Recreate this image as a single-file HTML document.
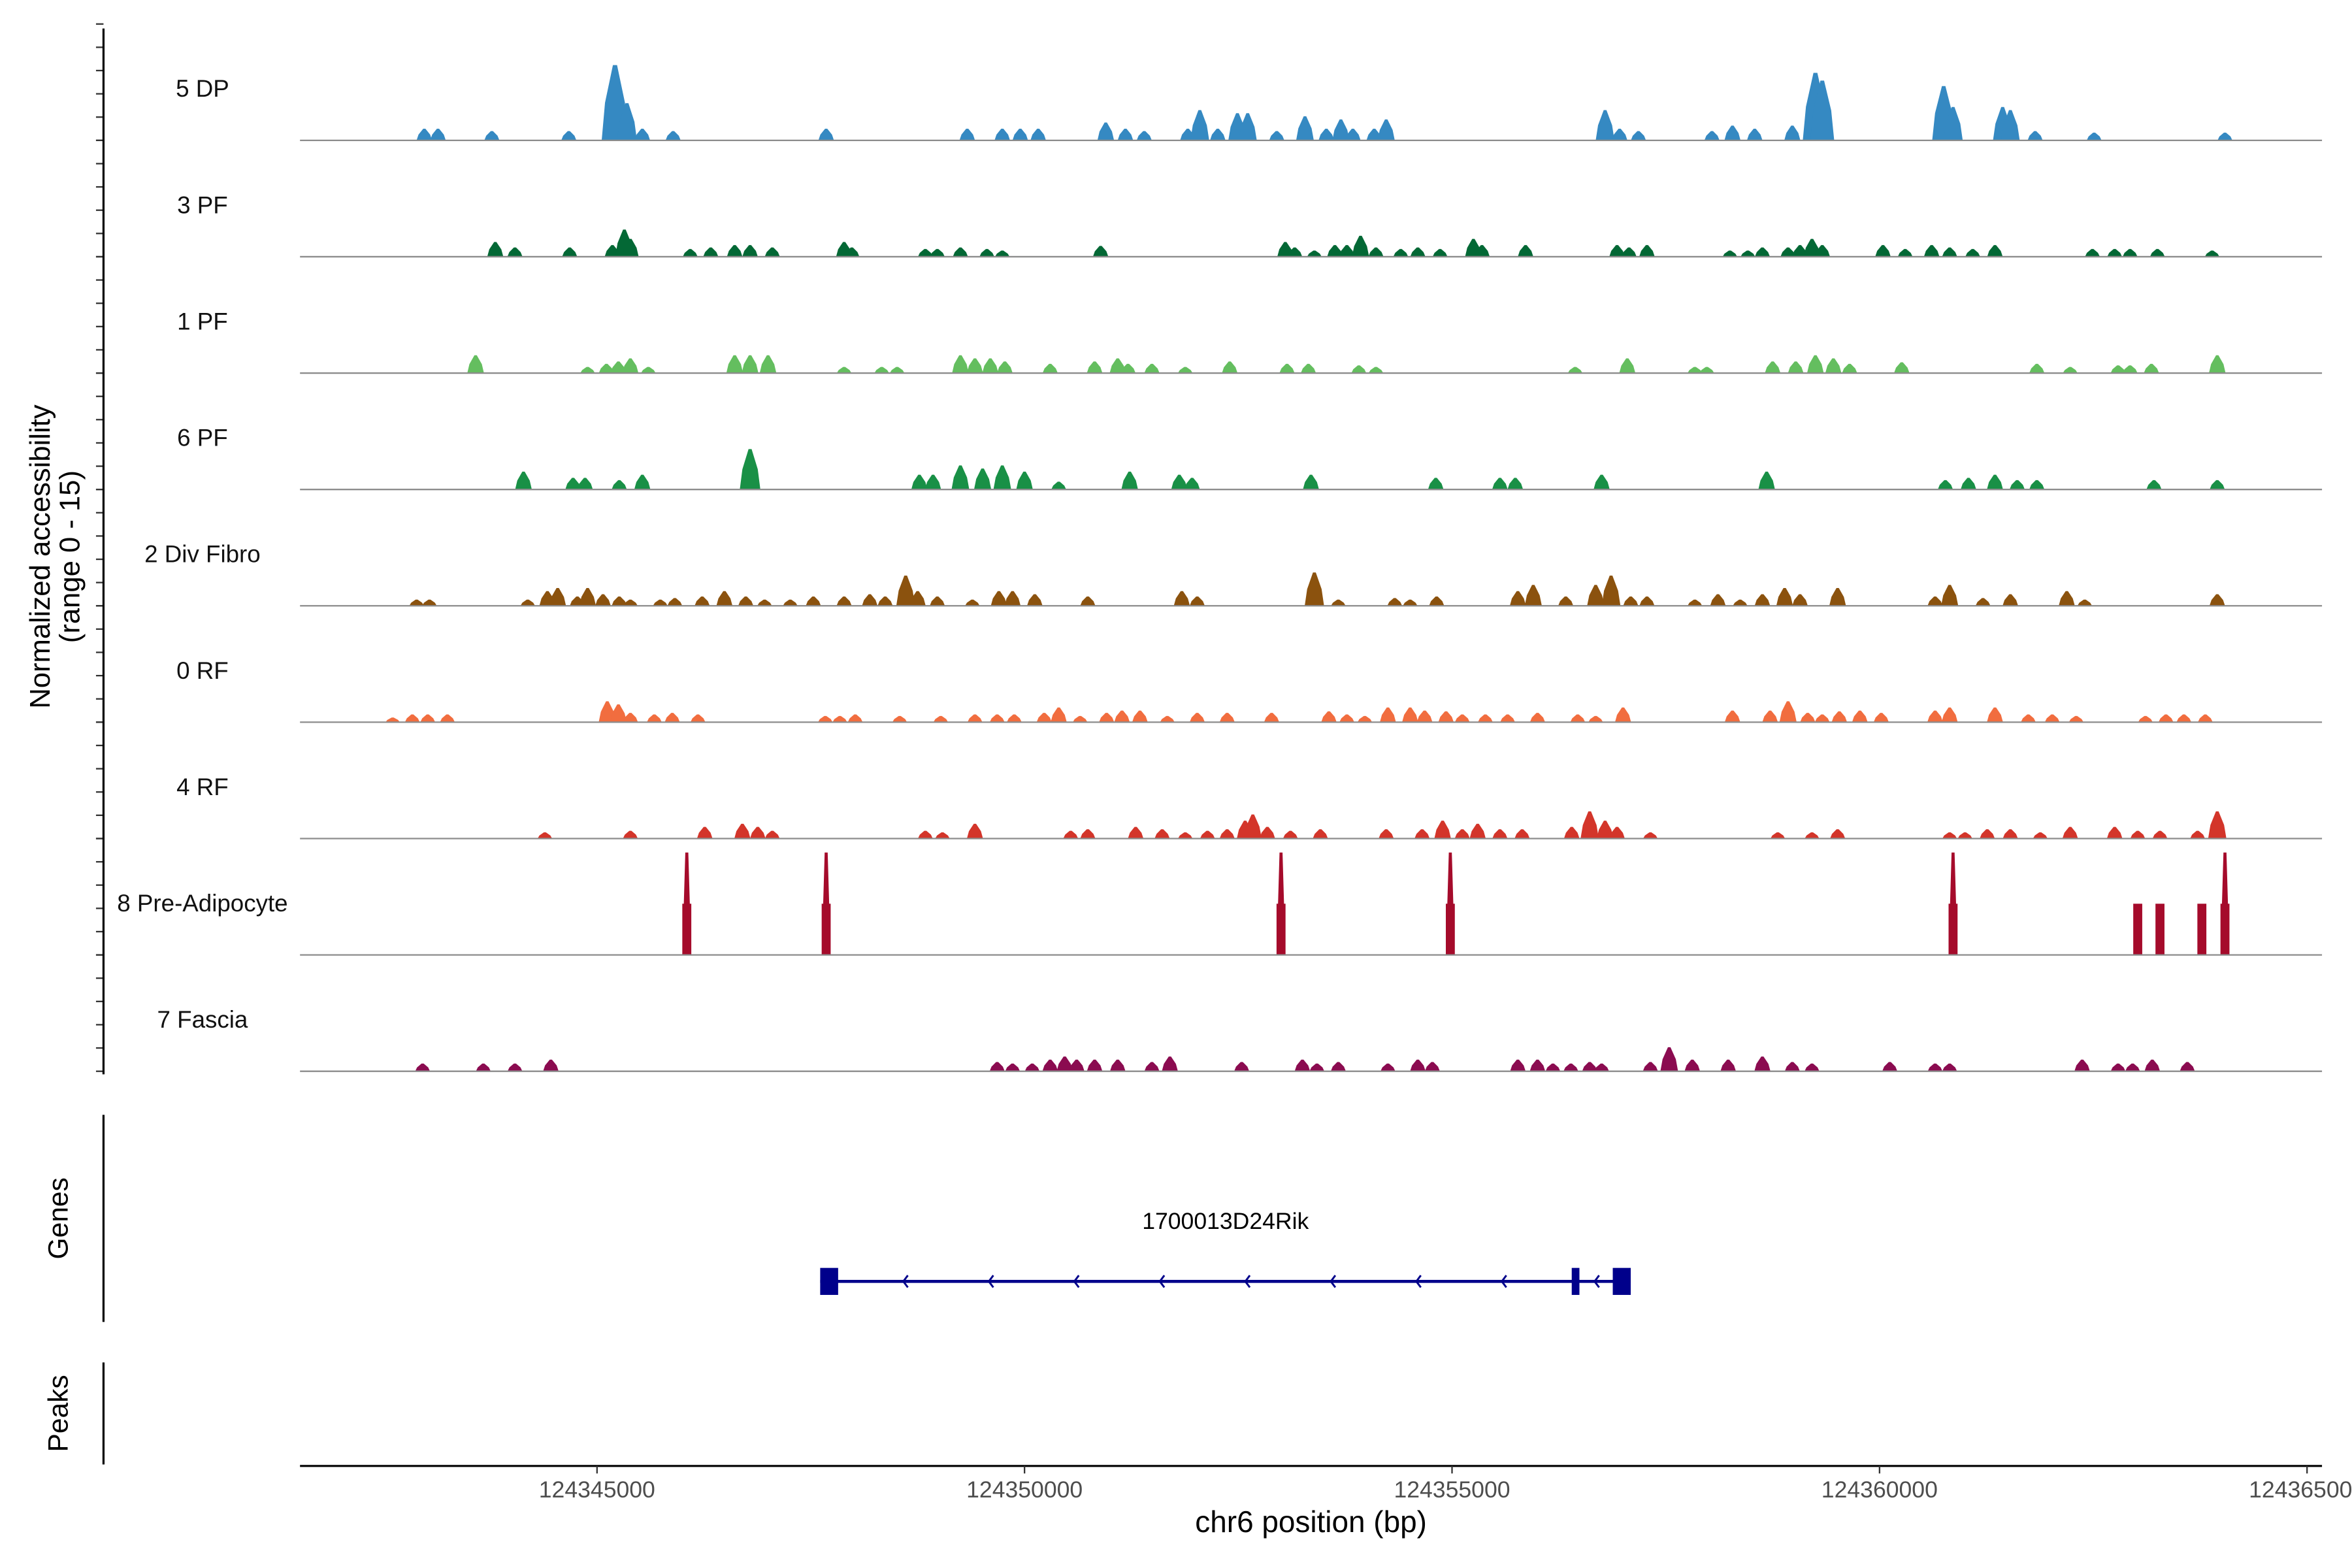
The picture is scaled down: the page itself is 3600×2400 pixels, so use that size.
<!DOCTYPE html>
<html><head><meta charset="utf-8"><style>
html,body{margin:0;padding:0;background:#fff}
svg{display:block}
text{font-family:"Liberation Sans",Arial,sans-serif}
</style></head><body>
<svg id="chart" xmlns="http://www.w3.org/2000/svg" width="3600" height="2400" viewBox="0 0 1568 1045" preserveAspectRatio="none">
<g id="tracks"></g>
<g id="axes"></g>
<g id="genes"></g>
</svg>
<script>
const regionStartKb = 124340;
const xDomainKb = [1.526, 25.175];
const yMax = 15;
const trackNames = ["5 DP","3 PF","1 PF","6 PF","2 Div Fibro","0 RF","4 RF","8 Pre-Adipocyte","7 Fascia"];
const trackColors = ["#3589C2","#036835","#64BE5F","#199046","#8B520E","#F16D3F","#D3352A","#A50B2B","#8B0B50"];
const xTicksKb = [5,10,15,20,25];
const xTickLabels = ["124345000","124350000","124355000","124360000","124365000"];

const pos5DP = [2.98,3.14,3.77,4.67,5.21,5.35,5.53,5.89,7.68,9.33,9.74,9.95,10.16,10.95,11.18,11.40,11.91,12.05,12.26,12.49,12.61,12.95,13.28,13.53,13.70,13.84,14.09,14.23,16.79,16.96,17.18,18.04,18.28,18.54,18.98,19.25,19.33,20.75,20.86,21.44,21.53,21.82,22.51,24.04];
const val5DP = [1.5,1.5,1.2,1.2,9.7,4.8,1.5,1.2,1.5,1.5,1.5,1.5,1.5,2.3,1.5,1.2,1.5,3.9,1.5,3.5,3.5,1.2,3.1,1.5,2.7,1.5,1.5,2.7,3.9,1.5,1.2,1.2,1.9,1.5,1.9,8.7,7.7,7.0,4.3,4.3,3.9,1.2,1.0,1.0];
const pos3PF = [3.81,4.04,4.68,5.18,5.32,5.39,6.09,6.33,6.61,6.79,7.05,7.89,7.98,8.84,8.98,9.25,9.56,9.74,10.89,13.05,13.16,13.39,13.63,13.77,13.93,14.11,14.40,14.60,14.86,15.25,15.35,15.86,16.93,17.07,17.28,18.25,18.46,18.63,18.93,19.07,19.21,19.33,20.04,20.30,20.61,20.82,21.09,21.35,22.49,22.75,22.93,23.25,23.89];
const val3PF = [1.9,1.2,1.2,1.5,3.5,2.3,1.0,1.2,1.5,1.5,1.2,1.9,1.2,1.0,1.0,1.2,1.0,0.8,1.4,1.9,1.2,0.8,1.5,1.5,2.7,1.2,1.0,1.2,1.0,2.3,1.5,1.5,1.5,1.2,1.5,0.8,0.8,1.2,1.2,1.5,2.3,1.5,1.5,1.0,1.5,1.2,1.0,1.5,1.0,1.0,1.0,1.0,0.8];
const pos1PF = [3.58,4.89,5.11,5.25,5.39,5.60,6.61,6.79,7.00,7.89,8.33,8.51,9.25,9.42,9.60,9.77,10.30,10.82,11.09,11.21,11.49,11.88,12.40,13.07,13.32,13.91,14.11,16.44,17.05,17.84,17.98,18.75,19.02,19.25,19.46,19.65,20.26,21.84,22.23,22.79,22.93,23.18,23.95];
const val1PF = [2.3,0.8,1.2,1.5,1.9,0.8,2.3,2.3,2.3,0.8,0.8,0.8,2.3,1.9,1.9,1.5,1.2,1.5,1.9,1.2,1.2,0.8,1.5,1.2,1.2,1.0,0.8,0.8,1.9,0.8,0.8,1.5,1.5,2.3,1.9,1.2,1.4,1.2,0.8,1.0,1.0,1.2,2.3];
const pos6PF = [4.14,4.72,4.86,5.26,5.53,6.79,8.77,8.93,9.25,9.51,9.74,10.00,10.40,11.23,11.81,11.96,13.35,14.81,15.56,15.74,16.75,18.68,20.77,21.04,21.35,21.61,21.84,23.21,23.95];
const val6PF = [2.3,1.5,1.5,1.2,1.9,5.2,1.9,1.9,3.1,2.7,3.1,2.3,1.0,2.3,1.9,1.5,1.9,1.5,1.5,1.5,1.9,2.3,1.2,1.5,1.9,1.2,1.2,1.2,1.2];
const posDiv = [2.89,3.04,4.19,4.42,4.54,4.77,4.89,5.07,5.26,5.39,5.74,5.91,6.23,6.49,6.74,6.96,7.26,7.53,7.89,8.19,8.37,8.61,8.75,8.98,9.39,9.70,9.86,10.12,10.74,11.84,12.02,13.39,13.67,14.33,14.51,14.82,15.77,15.95,16.33,16.68,16.86,17.09,17.28,17.84,18.11,18.37,18.63,18.89,19.07,19.51,20.65,20.82,21.21,21.53,22.19,22.40,23.95];
const valDiv = [0.8,0.8,0.8,1.9,2.3,1.2,2.3,1.5,1.2,0.8,0.8,1.0,1.2,1.9,1.2,0.8,0.8,1.2,1.2,1.5,1.2,3.9,1.9,1.2,0.8,1.9,1.9,1.5,1.2,1.9,1.2,4.3,0.8,1.0,0.8,1.2,1.9,2.7,1.2,2.7,3.9,1.2,1.2,0.8,1.5,0.8,1.5,2.3,1.5,2.3,1.2,2.7,1.0,1.5,1.9,0.8,1.5];
const pos0RF = [2.61,2.84,3.02,3.25,5.12,5.25,5.39,5.67,5.88,6.18,7.67,7.84,8.02,8.54,9.02,9.42,9.68,9.88,10.23,10.40,10.65,10.96,11.14,11.35,11.67,12.02,12.37,12.89,13.56,13.77,13.98,14.25,14.51,14.68,14.93,15.12,15.39,15.65,16.00,16.47,16.68,17.00,18.28,18.72,18.93,19.16,19.33,19.53,19.77,20.02,20.65,20.82,21.35,21.74,22.02,22.30,23.11,23.35,23.56,23.81];
const val0RF = [0.6,1.0,1.0,1.0,2.7,2.3,1.2,1.0,1.2,1.0,0.8,0.8,1.0,0.8,0.8,1.0,1.0,1.0,1.2,1.9,0.8,1.2,1.5,1.5,0.8,1.2,1.2,1.2,1.4,1.0,0.8,1.9,1.9,1.5,1.4,1.0,1.0,1.0,1.2,1.0,0.8,1.9,1.5,1.5,2.7,1.2,1.0,1.4,1.5,1.2,1.5,1.9,1.9,1.0,1.0,0.8,0.8,1.0,1.0,1.0];
const pos4RF = [4.39,5.39,6.26,6.70,6.88,7.05,8.84,9.04,9.42,10.54,10.74,11.30,11.61,11.88,12.14,12.37,12.58,12.67,12.84,13.11,13.46,14.23,14.65,14.89,15.12,15.30,15.56,15.82,16.40,16.61,16.79,16.93,17.32,18.81,19.21,19.51,20.82,21.00,21.26,21.53,21.88,22.23,22.75,23.02,23.28,23.72,23.95];
const val4RF = [0.8,1.0,1.5,1.9,1.5,1.0,1.0,0.8,1.9,1.0,1.2,1.5,1.2,0.8,1.0,1.2,2.3,3.1,1.5,1.0,1.2,1.2,1.2,2.3,1.2,1.9,1.2,1.2,1.5,3.5,2.3,1.5,0.8,0.8,0.8,1.2,0.8,0.8,1.2,1.2,0.8,1.5,1.5,1.0,1.0,1.0,3.5];
const posPre = [6.05,7.68,13.00,14.98,20.86,23.02,23.28,23.77,24.04];
const valPre = [13.2,13.2,13.2,13.2,13.2,6.6,6.6,6.6,13.2];
const posFas = [2.96,3.67,4.04,4.46,9.68,9.86,10.09,10.30,10.47,10.61,10.82,11.09,11.49,11.70,12.54,13.25,13.42,13.67,14.25,14.60,14.77,15.77,16.00,16.18,16.39,16.61,16.75,17.32,17.54,17.81,18.23,18.63,18.98,19.21,20.12,20.65,20.82,22.37,22.79,22.96,23.19,23.60];
const valFas = [1.0,1.0,1.0,1.5,1.2,1.0,1.0,1.5,1.9,1.5,1.5,1.5,1.2,1.9,1.2,1.5,1.0,1.2,1.0,1.5,1.2,1.5,1.5,1.0,1.0,1.2,1.0,1.2,3.1,1.5,1.5,1.9,1.2,1.0,1.2,1.0,1.0,1.5,1.0,1.0,1.5,1.2];

const geneName = "1700013D24Rik";
const exonStartsKb = [7.61,16.40,16.88];
const exonEndsKb = [7.82,16.49,17.09];

const trackPos = [pos5DP,pos3PF,pos1PF,pos6PF,posDiv,pos0RF,pos4RF,posPre,posFas];
const trackVal = [val5DP,val3PF,val1PF,val6PF,valDiv,val0RF,val4RF,valPre,valFas];

const NS = "http://www.w3.org/2000/svg";
const X0 = 200, X1 = 1548;
const xs = kb => X0 + (kb - xDomainKb[0]) / (xDomainKb[1] - xDomainKb[0]) * (X1 - X0);
const trackTop = 16, trackH = 77.55;
const baseY = i => trackTop + (i + 1) * trackH;
const ys = (i, v) => baseY(i) - v / yMax * trackH;
function mk(tag, attrs, parent) {
  const e = document.createElementNS(NS, tag);
  for (const k in attrs) e.setAttribute(k, attrs[k]);
  parent.appendChild(e);
  return e;
}
const gT = document.getElementById('tracks');
const gA = document.getElementById('axes');
const gG = document.getElementById('genes');

trackNames.forEach((name, i) => {
  const g = mk('g', {}, gT);
  
  
  const lbl = mk('text', {x: 135, y: baseY(i) - 29, 'text-anchor': 'middle', 'font-size': 16, fill: '#111'}, g);
  lbl.textContent = name;
  
  
  const pos = trackPos[i], val = trackVal[i];
  pos.forEach((p, j) => {
    const v = val[j], b = baseY(i), cx = xs(p);
    let d;
    if (i === 7) {
      const low = Math.min(v, 6.6);
      const hw = 3;
      d = `M${cx-hw},${b} L${cx-hw},${ys(i,low)} L${cx-2},${ys(i,low)} L${cx-1},${ys(i,v)} L${cx+1},${ys(i,v)} L${cx+2},${ys(i,low)} L${cx+hw},${ys(i,low)} L${cx+hw},${b} Z`;
    } else {
      const bw = 4.5 + v * 0.45, tw = 0.6 + v * 0.08;
      d = `M${cx-bw},${b} L${cx-bw*0.75},${ys(i,v*0.5)} L${cx-tw},${ys(i,v)} L${cx+tw},${ys(i,v)} L${cx+bw*0.75},${ys(i,v*0.5)} L${cx+bw},${b} Z`;
    }
    const pk = mk('path', {d: d, fill: trackColors[i]}, g);
    
    
  });
  const bl = mk('line', {x1: X0, x2: X1, y1: baseY(i), y2: baseY(i), stroke: '#8c8c8c', 'stroke-width': 1}, g);
  
  
  for (let k = 0; k <= 5; k++) {
    const ty = ys(i, k * 3);
    const tk = mk('line', {x1: 64, x2: 69, y1: ty, y2: ty, stroke: '#333', 'stroke-width': 1}, gA);
    
    
  }
});

const yl = mk('line', {x1: 69, x2: 69, y1: 19, y2: 716, stroke: '#000', 'stroke-width': 1.4}, gA);


const yt = mk('text', {transform: 'translate(35,371) rotate(-90)', 'text-anchor': 'middle', 'font-size': 19, fill: '#000'}, gA);


const t1 = mk('tspan', {x: 0, dy: -2}, yt); t1.textContent = 'Normalized accessibility';
const t2 = mk('tspan', {x: 0, dy: 20}, yt); t2.textContent = '(range 0 - 15)';

const gl = mk('line', {x1: 69, x2: 69, y1: 743, y2: 881, stroke: '#000', 'stroke-width': 1.4}, gA);


const gt = mk('text', {transform: 'translate(45,812) rotate(-90)', 'text-anchor': 'middle', 'font-size': 18.5}, gA);
gt.textContent = 'Genes';


const pl = mk('line', {x1: 69, x2: 69, y1: 908, y2: 976, stroke: '#000', 'stroke-width': 1.4}, gA);


const pt = mk('text', {transform: 'translate(45,942) rotate(-90)', 'text-anchor': 'middle', 'font-size': 18.5}, gA);
pt.textContent = 'Peaks';



const xl = mk('line', {x1: X0, x2: X1, y1: 977, y2: 977, stroke: '#000', 'stroke-width': 1.4}, gA);


xTicksKb.forEach((kb, j) => {
  const x = xs(kb);
  const tk = mk('line', {x1: x, x2: x, y1: 977, y2: 982, stroke: '#333', 'stroke-width': 1}, gA);
  
  
  const tl = mk('text', {x: x, y: 998, 'text-anchor': 'middle', 'font-size': 15.5, fill: '#4d4d4d'}, gA);
  tl.textContent = xTickLabels[j];
  
  
});
const xt = mk('text', {x: 874, y: 1021, 'text-anchor': 'middle', 'font-size': 20}, gA);
xt.textContent = 'chr6 position (bp)';



// gene model
const gy = 854;
const gs = exonStartsKb[0], ge = exonEndsKb[exonEndsKb.length - 1];
const intron = mk('line', {x1: xs(gs), x2: xs(ge), y1: gy, y2: gy, stroke: '#00008B', 'stroke-width': 2}, gG);


for (let kb = Math.ceil(gs) + 0.6; kb < exonStartsKb[1] - 0.1; kb += 1) {
  const x = xs(kb);
  const a = mk('path', {d: `M${x+2},${gy-4} L${x-1},${gy} L${x+2},${gy+4}`, fill: 'none', stroke: '#00008B', 'stroke-width': 1.3}, gG);
  
  
}
{
  const x = xs((exonEndsKb[1] + exonStartsKb[2]) / 2);
  const a = mk('path', {d: `M${x+2},${gy-4} L${x-1},${gy} L${x+2},${gy+4}`, fill: 'none', stroke: '#00008B', 'stroke-width': 1.3}, gG);
  
  
}
exonStartsKb.forEach((s, j) => {
  const ex = mk('rect', {x: xs(s), y: gy - 9, width: xs(exonEndsKb[j]) - xs(s), height: 18, fill: '#00008B'}, gG);
  
  
});
const gn = mk('text', {x: 817, y: 819, 'text-anchor': 'middle', 'font-size': 15.5}, gG);
gn.textContent = geneName;


</script>
</body></html>
